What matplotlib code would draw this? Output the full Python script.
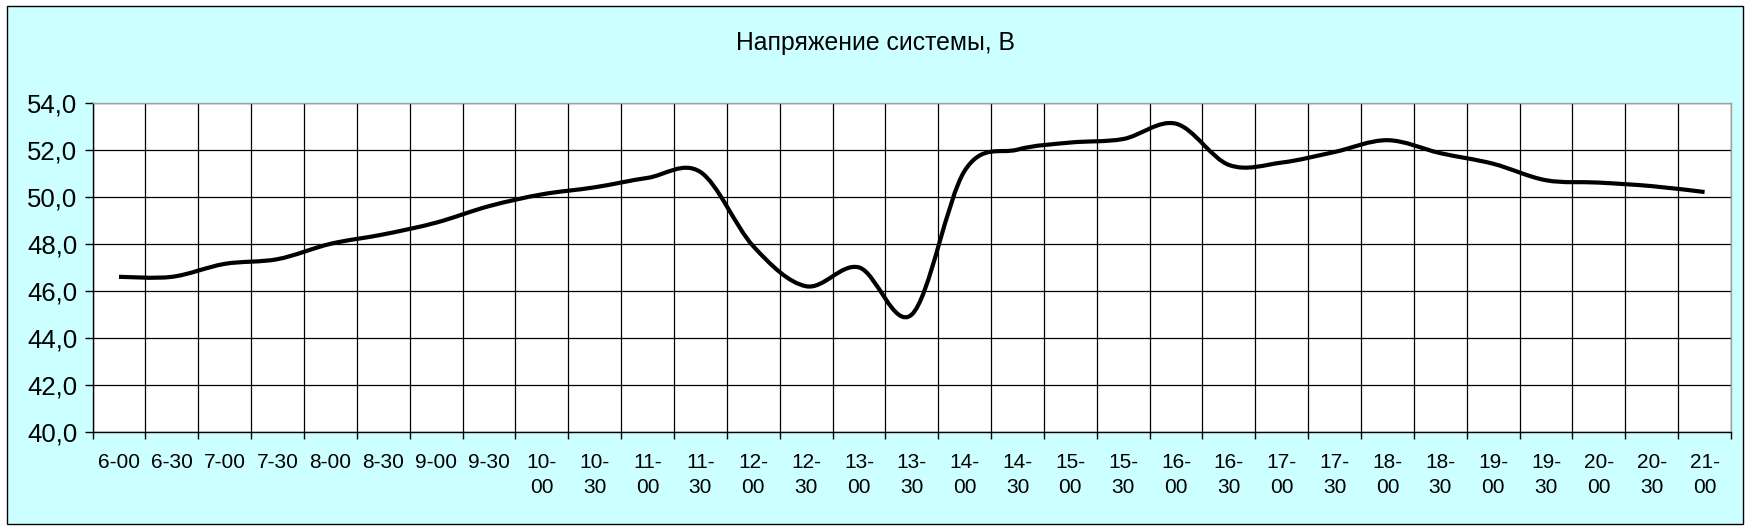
import numpy as np
import matplotlib
matplotlib.use("Agg")
import matplotlib.pyplot as plt
from matplotlib.path import Path
from matplotlib.patches import PathPatch, Rectangle
from matplotlib.ticker import FuncFormatter

plt.rcParams['font.family'] = ['Liberation Sans', 'DejaVu Sans']

# ------------------ DATA ------------------
times = ["6-00", "6-30", "7-00", "7-30", "8-00", "8-30", "9-00", "9-30",
         "10-00", "10-30", "11-00", "11-30", "12-00", "12-30", "13-00", "13-30",
         "14-00", "14-30", "15-00", "15-30", "16-00", "16-30", "17-00", "17-30",
         "18-00", "18-30", "19-00", "19-30", "20-00", "20-30", "21-00"]

voltage = [46.6, 46.6, 47.15, 47.35, 48.0, 48.4, 48.9, 49.6,
           50.1, 50.4, 50.8, 51.05, 47.9, 46.2, 47.0, 45.0,
           51.1, 52.0, 52.3, 52.45, 53.1, 51.35, 51.45, 51.9,
           52.4, 51.85, 51.4, 50.7, 50.6, 50.45, 50.2]

title = "Напряжение системы, В"

# ------------------ FIGURE ------------------
fig = plt.figure(figsize=(17.5, 5.3), dpi=100)
fig.patch.set_facecolor("white")
fig.patches.append(Rectangle((7, 6), 1736, 518, transform=None, zorder=-10,
                             facecolor="#CCFFFF", edgecolor="black", lw=1.0))

ax = fig.add_axes([92.6 / 1750, 1 - 432.3 / 530, (1731 - 92.6) / 1750, (432.3 - 102.5) / 530])
ax.set_facecolor("white")

n = len(voltage)
x = np.arange(n)
y = np.array(voltage)

# smoothed line (Excel style bezier)
verts = [(x[0], y[0])]
codes = [Path.MOVETO]
for i in range(n - 1):
    p0 = y[max(i - 1, 0)]
    p3 = y[min(i + 2, n - 1)]
    x0 = x[max(i - 1, 0)]
    x3 = x[min(i + 2, n - 1)]
    c1 = (x[i] + (x[i + 1] - x0) / 6, y[i] + (y[i + 1] - p0) / 6)
    c2 = (x[i + 1] - (x3 - x[i]) / 6, y[i + 1] - (p3 - y[i]) / 6)
    verts += [c1, c2, (x[i + 1], y[i + 1])]
    codes += [Path.CURVE4] * 3
ax.add_patch(PathPatch(Path(verts, codes), facecolor="none", edgecolor="black",
                       lw=3.0, capstyle="butt", joinstyle="round", zorder=3))

ax.set_xlim(-0.5, n - 0.5)
ax.set_ylim(40, 54)

# category boundaries carry tick marks and gridlines
ax.set_xticks(np.arange(n + 1) - 0.5)
ax.set_xticklabels([])
labels = [t if len(t) <= 4 else t.replace("-", "-\n") for t in times]
ax.set_xticks(x, labels, minor=True)
ax.tick_params(axis="x", which="major", direction="out", length=5, width=1, color="black")
ax.tick_params(axis="x", which="minor", length=0, pad=15, labelsize=15)
for lab in ax.get_xticklabels(minor=True):
    lab.set_linespacing(1.4)
    lab.set_verticalalignment("top")

ax.set_yticks(np.arange(40, 55, 2))
ax.yaxis.set_major_formatter(FuncFormatter(lambda v, p: f"{v:.1f}".replace(".", ",")))
ax.tick_params(axis="y", direction="out", length=6, width=1, color="black", pad=5, labelsize=18.5)

ax.set_axisbelow(True)
ax.grid(True, axis="x", which="major", color="black", lw=0.9)
ax.grid(True, axis="y", which="major", color="black", lw=0.9)

ax.spines["left"].set_color("black")
ax.spines["bottom"].set_color("black")
ax.spines["top"].set_color("#A0A0A0")
ax.spines["right"].set_color("#A0A0A0")
for s in ax.spines.values():
    s.set_linewidth(1.0)

fig.text(0.5, 1 - 43 / 530, title, ha="center", va="center", fontsize=17.8)

fig.savefig("out.png", dpi=100, facecolor=fig.get_facecolor())
